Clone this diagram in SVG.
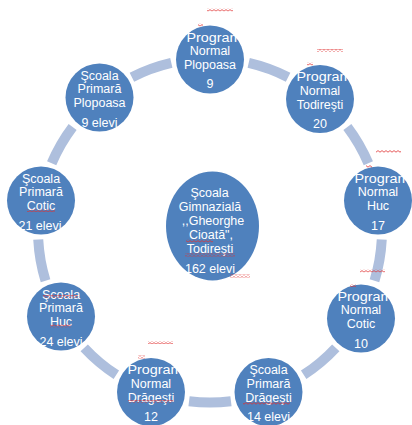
<svg xmlns="http://www.w3.org/2000/svg" width="412" height="425" viewBox="0 0 412 425">
<defs>
<style>
.n{fill:#4F81BD;}
.t{font-family:"Liberation Sans",Arial,sans-serif;font-size:12.5px;fill:#ffffff;text-anchor:middle;}
.c{fill:none;stroke:#AEBFDD;stroke-width:10;}
.sq{fill:url(#sq);}
</style>
<pattern id="sq" width="4" height="3" patternUnits="userSpaceOnUse"><path d="M0 2.2 L2 0.6 L4 2.2" fill="none" stroke="#E03030" stroke-width="0.8"/></pattern>
</defs>
<rect width="412" height="425" fill="#ffffff"/>
<g id="connectors">
<path class="c" d="M248.69 62.91 A172 172 0 0 1 288.09 77.25"/>
<path class="c" d="M347.37 126.99 A172 172 0 0 1 368.33 163.29"/>
<path class="c" d="M381.76 239.5 A172 172 0 0 1 374.48 280.79"/>
<path class="c" d="M335.79 347.8 A172 172 0 0 1 303.68 374.75"/>
<path class="c" d="M230.96 401.22 A172 172 0 0 1 189.04 401.22"/>
<path class="c" d="M116.32 374.75 A172 172 0 0 1 84.21 347.8"/>
<path class="c" d="M45.52 280.79 A172 172 0 0 1 38.24 239.5"/>
<path class="c" d="M51.67 163.29 A172 172 0 0 1 72.63 126.99"/>
<path class="c" d="M131.91 77.25 A172 172 0 0 1 171.31 62.91"/>
</g>
<g id="center">
<ellipse class="n" cx="212.5" cy="226" rx="46.5" ry="54.5"/>
<text class="t" x="209.5" y="196.5">Şcoala</text>
<text class="t" x="210" y="210.5">Gimnazială</text>
<text class="t" x="213" y="225">,,Gheorghe</text>
<text class="t" x="211" y="238.5">Cioată",</text>
<text class="t" x="210" y="252.5">Todireşti</text>
<text class="t" x="210" y="273">162 elevi</text>
</g>
<g id="n0">
<circle class="n" cx="210" cy="59.5" r="34"/>
<text class="t" x="214" y="41.5" textLength="55" lengthAdjust="spacingAndGlyphs">Program</text>
<text class="t" x="210" y="55">Normal</text>
<text class="t" x="210" y="69">Plopoasa</text>
<text class="t" x="210" y="88">9</text>
</g>
<g id="n1">
<circle class="n" cx="320" cy="99" r="34"/>
<text class="t" x="324" y="81" textLength="55" lengthAdjust="spacingAndGlyphs">Program</text>
<text class="t" x="320" y="94.5">Normal</text>
<text class="t" x="320" y="108.5">Todireşti</text>
<text class="t" x="320" y="128">20</text>
</g>
<g id="n2">
<circle class="n" cx="378" cy="200.5" r="34"/>
<text class="t" x="382" y="182.5" textLength="55" lengthAdjust="spacingAndGlyphs">Program</text>
<text class="t" x="378" y="196">Normal</text>
<text class="t" x="378" y="210">Huc</text>
<text class="t" x="378" y="229.5">17</text>
</g>
<g id="n3">
<circle class="n" cx="361" cy="318.5" r="34"/>
<text class="t" x="365" y="300.5" textLength="55" lengthAdjust="spacingAndGlyphs">Program</text>
<text class="t" x="361" y="314">Normal</text>
<text class="t" x="361" y="328">Cotic</text>
<text class="t" x="361" y="347.5">10</text>
</g>
<g id="n4">
<circle class="n" cx="268.5" cy="392" r="34"/>
<text class="t" x="268.5" y="374">Şcoala</text>
<text class="t" x="268.5" y="387.5">Primară</text>
<text class="t" x="268.5" y="401.5">Drăgeşti</text>
<text class="t" x="268.5" y="421">14 elevi</text>
</g>
<g id="n5">
<circle class="n" cx="151" cy="392" r="34"/>
<text class="t" x="155" y="374" textLength="55" lengthAdjust="spacingAndGlyphs">Program</text>
<text class="t" x="151" y="387.5">Normal</text>
<text class="t" x="151" y="401.5">Drăgeşti</text>
<text class="t" x="151" y="421">12</text>
</g>
<g id="n6">
<circle class="n" cx="61" cy="316.5" r="34"/>
<text class="t" x="61" y="298.5">Şcoala</text>
<text class="t" x="61" y="312">Primară</text>
<text class="t" x="61" y="326">Huc</text>
<text class="t" x="61" y="345.5">24 elevi</text>
</g>
<g id="n7">
<circle class="n" cx="41" cy="200.5" r="34"/>
<text class="t" x="41" y="182.5">Şcoala</text>
<text class="t" x="41" y="196">Primară</text>
<text class="t" x="41" y="210">Cotic</text>
<text class="t" x="40" y="229.5">21 elevi</text>
</g>
<g id="n8">
<circle class="n" cx="99.5" cy="97.5" r="34"/>
<text class="t" x="99.5" y="79.5">Şcoala</text>
<text class="t" x="99.5" y="93">Primară</text>
<text class="t" x="99.5" y="107">Plopoasa</text>
<text class="t" x="99.5" y="126.5">9 elevi</text>
</g>
<g id="marks">
<rect class="sq" x="207" y="8.5" width="26" height="3"/>
<rect class="sq" x="198" y="23.5" width="5" height="3"/>
<rect class="sq" x="317" y="49" width="26" height="3"/>
<rect class="sq" x="307" y="62.5" width="6" height="3"/>
<rect class="sq" x="376" y="150" width="25" height="3"/>
<rect class="sq" x="366" y="165" width="6" height="3"/>
<rect class="sq" x="360" y="269.5" width="25" height="3"/>
<rect class="sq" x="350" y="284" width="6" height="3"/>
<rect class="sq" x="148" y="341" width="25" height="3"/>
<rect class="sq" x="138" y="355.5" width="7" height="3"/>
<rect class="sq" x="128" y="400" width="45" height="3"/>
<rect class="sq" x="43" y="295" width="35" height="3"/>
<rect class="sq" x="50" y="324.5" width="21" height="3"/>
<rect class="sq" x="27" y="209" width="28" height="3"/>
<rect class="sq" x="186" y="239.5" width="27" height="3"/>
<rect class="sq" x="185" y="253.5" width="50" height="3"/>
<rect class="sq" x="230" y="274.5" width="20" height="3"/>
<rect class="sq" x="243" y="402" width="47" height="3"/>
</g>
</svg>
